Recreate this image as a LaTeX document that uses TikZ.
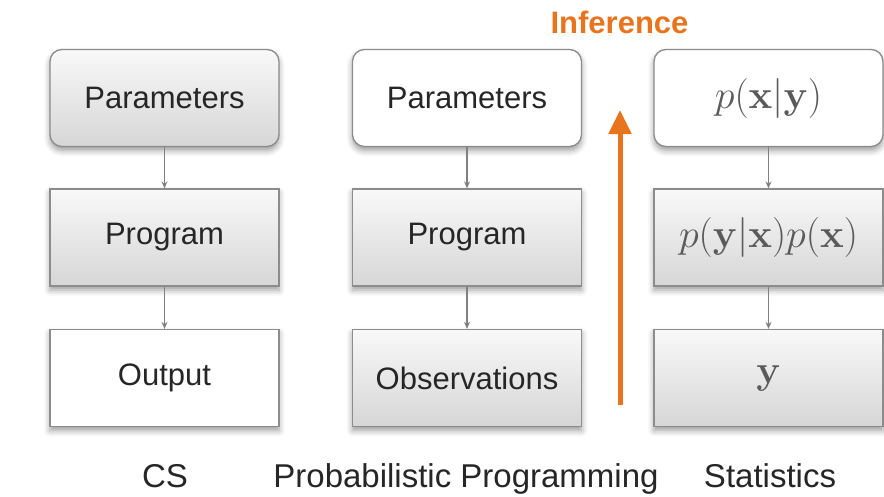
\RequirePackage{fix-cm}
\documentclass[tikz,border=0pt]{standalone}
\usepackage[no-math]{fontspec}
\newfontfamily\lsans{Liberation Sans}
\usetikzlibrary{arrows.meta,shadows.blur}
\definecolor{inforange}{HTML}{E8741E}
\definecolor{boxedge}{HTML}{8C8C8C}
\definecolor{txt}{HTML}{262626}
\definecolor{mathgray}{HTML}{5A5A5A}
\begin{document}
\begin{tikzpicture}[x=1pt,y=-1pt,
  box/.style={draw=boxedge, line width=1.3pt, minimum width=229pt, minimum height=97pt,
    inner sep=0pt, text=txt, font=\lsans\fontsize{31}{36}\selectfont,
    blur shadow={shadow xshift=0pt, shadow yshift=-4pt, shadow blur radius=6pt, shadow opacity=40}},
  grad/.style={box, top color=gray!5, bottom color=gray!32},
  plain/.style={box, fill=white},
  rnd/.style={rounded corners=12pt},
  mathtxt/.style={text=mathgray, font=\fontsize{40}{46}\selectfont},
  link/.style={draw=gray, line width=1.2pt, -{Stealth[length=7pt,width=6pt]}},
  lbl/.style={anchor=base, inner sep=0pt, text=txt, font=\lsans\fontsize{33}{40}\selectfont}]
\useasboundingbox (0,0) rectangle (884,496);
% column 1
\node[grad,rnd] (p1) at (164.5,98) {Parameters};
\node[grad] (g1) at (164.5,237.5) {Program};
\node[plain] (o1) at (164.5,378) {Output};
% column 2
\node[plain,rnd] (p2) at (467,98) {Parameters};
\node[grad] (g2) at (467,237.5) {Program};
\node[grad] (o2) at (467,378) {Observations};
% column 3
\node[plain,rnd,mathtxt] (p3) at (768.5,98) {$p(\mathbf{x}|\mathbf{y})$};
\node[grad,mathtxt] (g3) at (768.5,237.5) {$p(\mathbf{y}|\mathbf{x})p(\mathbf{x})$};
\node[grad,mathtxt] (o3) at (768.5,378) {$\mathbf{y}$};
% connectors
\draw[link] (p1) -- (g1);
\draw[link] (g1) -- (o1);
\draw[link] (p2) -- (g2);
\draw[link] (g2) -- (o2);
\draw[link] (p3) -- (g3);
\draw[link] (g3) -- (o3);
% inference arrow
\coordinate (ib) at (620,405);
\coordinate (it) at (620,110);
\draw[inforange, line width=5pt, -{Triangle[length=24pt,width=22pt]}] (ib) -- (it);
\node[anchor=base, text=inforange, font=\lsans\bfseries\fontsize{31}{36}\selectfont] (inf) at (619.5,33) {Inference};
% bottom labels
\node[lbl] (l1) at (165,487) {CS};
\node[lbl] (l2) at (466,487) {Probabilistic Programming};
\node[lbl] (l3) at (770,487) {Statistics};
\end{tikzpicture}
\end{document}
